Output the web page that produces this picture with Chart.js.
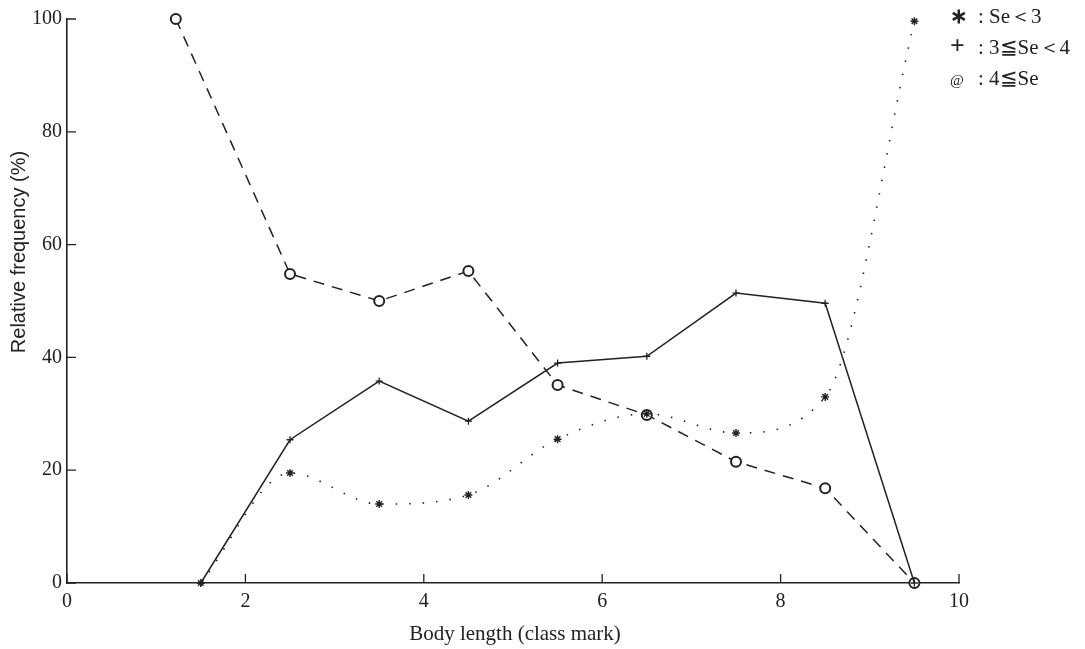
<!DOCTYPE html>
<html>
<head>
<meta charset="utf-8">
<script src="https://cdn.jsdelivr.net/npm/chart.js@4/dist/chart.umd.min.js"></script>
<style>
  body { margin: 0; background: #fff; }
  #wrap { position: relative; width: 1085px; height: 649px; }
  #legend { position: absolute; left: 950px; top: 1px; font-family: 'Liberation Serif', serif; font-size: 21px; color: #222; line-height: 31px; }
  #legend span { display: inline-block; width: 28px; font-weight: bold; }
</style>
</head>
<body>
<div id="wrap">
  <canvas id="c" width="1085" height="649"></canvas>
  <div id="legend">
    <div><span>&#x2217;</span>: Se＜3</div>
    <div><span style="font-size:26px;line-height:20px">+</span>: 3≦Se＜4</div>
    <div><span style="font-size:15px;font-weight:normal">@</span>: 4≦Se</div>
  </div>
</div>
<script>
// class marks and relative frequencies (%)
var classMarks = [1.5, 2.5, 3.5, 4.5, 5.5, 6.5, 7.5, 8.5, 9.5]
var lowSe = [0, 19.5, 14, 15.6, 25.5, 30, 26.6, 33, 99.6]
var midSe = [0, 25.4, 35.8, 28.7, 39, 40.2, 51.4, 49.6, 0]
var highSe = [100, 54.8, 50, 55.3, 35.1, 29.8, 21.5, 16.8, 0]
// the first high-Se mark sits left of its class mark in the plot
var highSeX = [1.22, 2.5, 3.5, 4.5, 5.5, 6.5, 7.5, 8.5, 9.5]
var xTicks = [0, 2, 4, 6, 8, 10]
var yTicks = [0, 20, 40, 60, 80, 100]

function pts (xs, ys) {
  return ys.map(function (y, i) { return { x: xs[i], y: y } })
}

var inkColour = '#222'

var axisTicks = {
  id: 'axisTicks',
  afterDraw: function (chart) {
    var ctx = chart.ctx
    var xs = chart.scales.x
    var ys = chart.scales.y
    var a = chart.chartArea
    ctx.save()
    ctx.strokeStyle = inkColour
    ctx.lineWidth = 1.3
    ctx.beginPath()
    xTicks.forEach(function (v) {
      var px = xs.getPixelForValue(v)
      ctx.moveTo(px, a.bottom)
      ctx.lineTo(px, a.bottom - 9)
    })
    yTicks.forEach(function (v) {
      var py = ys.getPixelForValue(v)
      ctx.moveTo(a.left, py)
      ctx.lineTo(a.left + 9, py)
    })
    ctx.stroke()
    // axis titles
    ctx.fillStyle = inkColour
    ctx.font = '21px "Liberation Serif"'
    ctx.textAlign = 'center'
    ctx.textBaseline = 'middle'
    ctx.fillText('Body length (class mark)', 515, 634)
    ctx.translate(19, 252)
    ctx.rotate(-Math.PI / 2)
    ctx.font = '20px "Liberation Sans"'
    ctx.fillText('Relative frequency (%)', 0, 0)
    ctx.restore()
  }
}

new Chart(document.getElementById('c'), {
  type: 'scatter',
  data: {
    datasets: [
      {
        label: 'Se<3',
        data: pts(classMarks, lowSe),
        showLine: true,
        clip: false,
        borderColor: inkColour,
        borderWidth: 1.6,
        borderDash: [1.5, 12],
        cubicInterpolationMode: 'monotone',
        pointStyle: 'star',
        pointRadius: 4,
        pointBorderWidth: 1.4,
        pointBorderColor: inkColour
      },
      {
        label: '3<=Se<4',
        data: pts(classMarks, midSe),
        showLine: true,
        clip: false,
        borderColor: inkColour,
        borderWidth: 1.5,
        pointStyle: 'cross',
        pointRadius: 3.5,
        pointBorderWidth: 1.3,
        pointBorderColor: inkColour
      },
      {
        label: '4<=Se',
        data: pts(highSeX, highSe),
        showLine: true,
        clip: false,
        borderColor: inkColour,
        borderWidth: 1.5,
        borderDash: [11, 8],
        pointStyle: 'circle',
        pointRadius: 5,
        pointBorderWidth: 2,
        pointBorderColor: inkColour,
        pointBackgroundColor: '#fff'
      }
    ]
  },
  options: {
    responsive: false,
    animation: false,
    layout: { padding: { top: 19, right: 126, left: 0, bottom: 0 } },
    plugins: { legend: { display: false }, tooltip: { enabled: false } },
    scales: {
      x: {
        min: 0,
        max: 10,
        afterFit: function (s) { s.height = 66 },
        afterBuildTicks: function (s) { s.ticks = xTicks.map(function (v) { return { value: v } }) },
        grid: { display: false, tickLength: 0 },
        border: { display: true, color: inkColour, width: 1.6 },
        ticks: { color: inkColour, padding: 7, font: { family: 'Liberation Serif', size: 20 } }
      },
      y: {
        min: 0,
        max: 100,
        afterFit: function (s) { s.width = 67 },
        afterBuildTicks: function (s) { s.ticks = yTicks.map(function (v) { return { value: v } }) },
        grid: { display: false, tickLength: 0 },
        border: { display: true, color: inkColour, width: 1.6 },
        ticks: { color: inkColour, padding: 5, font: { family: 'Liberation Serif', size: 20 } }
      }
    }
  },
  plugins: [axisTicks]
})
</script>
</body>
</html>
